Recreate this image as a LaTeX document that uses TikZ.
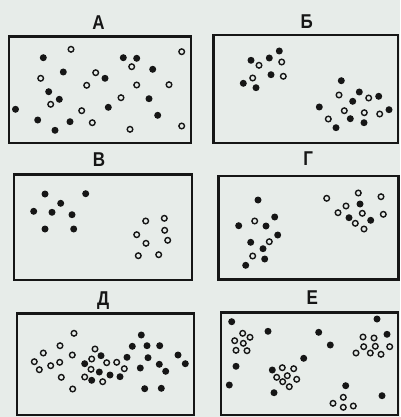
\documentclass[tikz,border=0pt]{standalone}
\usepackage{fontspec}
\setmainfont{Liberation Sans}
\definecolor{bg}{RGB}{231,236,233}
\definecolor{ink}{RGB}{22,22,22}
\begin{document}
\begin{tikzpicture}[x=1pt,y=-1pt,
  panel/.style={draw=ink, line width=2.4pt, inner sep=0pt, outer sep=0pt, anchor=north west},
  lbl/.style={font=\bfseries\fontsize{20}{20}\selectfont, text=ink, inner sep=0pt},
  fd/.style={fill=ink},
  od/.style={draw=ink, line width=1.4pt}]
\fill[bg] (0,0) rectangle (400,417);
\useasboundingbox (0,0) rectangle (400,417);
% panels
\node[panel, minimum width=181.7pt, minimum height=106pt] (pA) at (9,36.7) {};
\node[panel, minimum width=184.4pt, minimum height=107.7pt] (pB) at (213.3,35) {};
\node[panel, minimum width=177.7pt, minimum height=105.7pt] (pV) at (14,174.3) {};
\node[panel, minimum width=180pt, minimum height=103.3pt] (pG) at (218.3,176) {};
\node[panel, minimum width=177.3pt, minimum height=101.7pt] (pD) at (16.7,313.3) {};
\node[panel, minimum width=177.3pt, minimum height=102.7pt] (pE) at (220.7,312.3) {};
% labels
\node[lbl] (lA) at (98.5,22.5) {\scalebox{0.85}[1]{А}};
\node[lbl] (lB) at (306.7,22) {\scalebox{0.85}[1]{Б}};
\node[lbl] (lV) at (99,160) {\scalebox{0.85}[1]{В}};
\node[lbl] (lG) at (308.3,158.3) {\scalebox{0.85}[1]{Г}};
\node[lbl] (lD) at (103.3,301) {\scalebox{0.85}[1]{Д}};
\node[lbl] (lE) at (312.3,297.3) {\scalebox{0.85}[1]{Е}};
% filled dots
\foreach \x/\y in {
 43.3/57.7, 63.3/72, 123.3/57.7, 136.7/58.3, 152.7/69.3, 105/78.3, 48.7/91.7, 59.3/99.3,
 149/98.7, 108.3/107.3, 37.7/120, 70/121.7, 55/130.3, 157.7/115.3, 15.5/109.3,
 279.3/51, 251/60.3, 269.3/58, 271/74.7, 243.3/83.3, 256/87.7, 341.3/80.7, 359.3/92,
 378.7/96.3, 352.7/101.3, 319.3/107, 389/109.7, 350.3/118.7, 364/122.7, 336/127.7,
 45/194, 85.7/193.7, 60.7/203.3, 33.7/211.3, 52/212.3, 72/214.7, 45/229, 73.7/229,
 258/200, 274.7/217, 238.7/225.7, 266/226, 277.7/235, 250.7/242.3, 263/248.7, 264.7/259,
 245.7/265.3, 360/204, 349/217.7, 370.7/220.3,
 141.3/335, 132.3/346.3, 147/345.7, 159.7/345.7, 101/355.7, 127/357.3, 148/357.7, 178/355,
 185.3/363.7, 84.7/363.7, 140.3/368, 159.3/364.3, 165.7/371.3, 99.3/372, 110/375, 120/376.7,
 91.7/380.3, 144.7/388.7, 161.3/388.3,
 231.7/321.7, 268/331.3, 318.7/332.3, 377/319, 387/334.3, 330.3/345, 303.7/358.3, 236/366.3,
 272.3/370, 229.3/385, 274/392.7, 345.7/385.7, 382/395.7}
  \fill[fd] (\x,\y) circle (3.5pt);
% open circles
\foreach \x/\y in {
 71/49.3, 181.7/51.7, 131.7/66.7, 95.7/72.7, 40.7/78.3, 86.7/85.3, 136.7/85, 169/84.7,
 121/97.7, 50.7/104.3, 81.7/110.7, 92.3/122.7, 130/129.3, 181.7/126,
 259/65.3, 281.7/62, 283.3/76.3, 252.7/78, 339/95, 368.7/98, 344.3/110.7, 364.3/112.7,
 379.7/114, 328.3/119,
 145.7/221, 164.3/218.3, 164.7/230.3, 136.7/234.7, 146/243.3, 167.7/240.3, 138.3/255.7, 158.7/254.7,
 254.7/221, 269.3/241.7, 252.7/256, 326.7/198.3, 358.3/193, 381/196.7, 346/206, 338/212.7,
 362.3/213.3, 383.3/214.3, 355.3/223.3, 364/229,
 74/333.3, 60/345.7, 43.3/353, 72.3/355, 95/349, 34.3/361.7, 39.3/369.7, 50.7/365.7,
 59.7/362.3, 91.7/359, 106.7/362.7, 116.7/362.3, 124.3/368.7, 91/369.3, 84.7/377, 61.3/377.3,
 102.7/381.7, 72.7/389,
 242.7/333.3, 250/337.3, 234.7/340.7, 236/350.3, 247/350.7, 243.3/343.3,
 282.3/367.7, 293.7/368.7, 276.7/377.3, 287.3/375.7, 296.7/379.3, 282.7/381.7, 289.3/386.7,
 363/337, 374/338, 363.7/346.7, 375.3/346.3, 389.7/346.7, 356/353, 370.3/353, 381/354.3,
 343.3/397.3, 333/403.3, 343.3/407.3, 353.3/406}
  \draw[od] (\x,\y) circle (2.8pt);
\end{tikzpicture}
\end{document}
